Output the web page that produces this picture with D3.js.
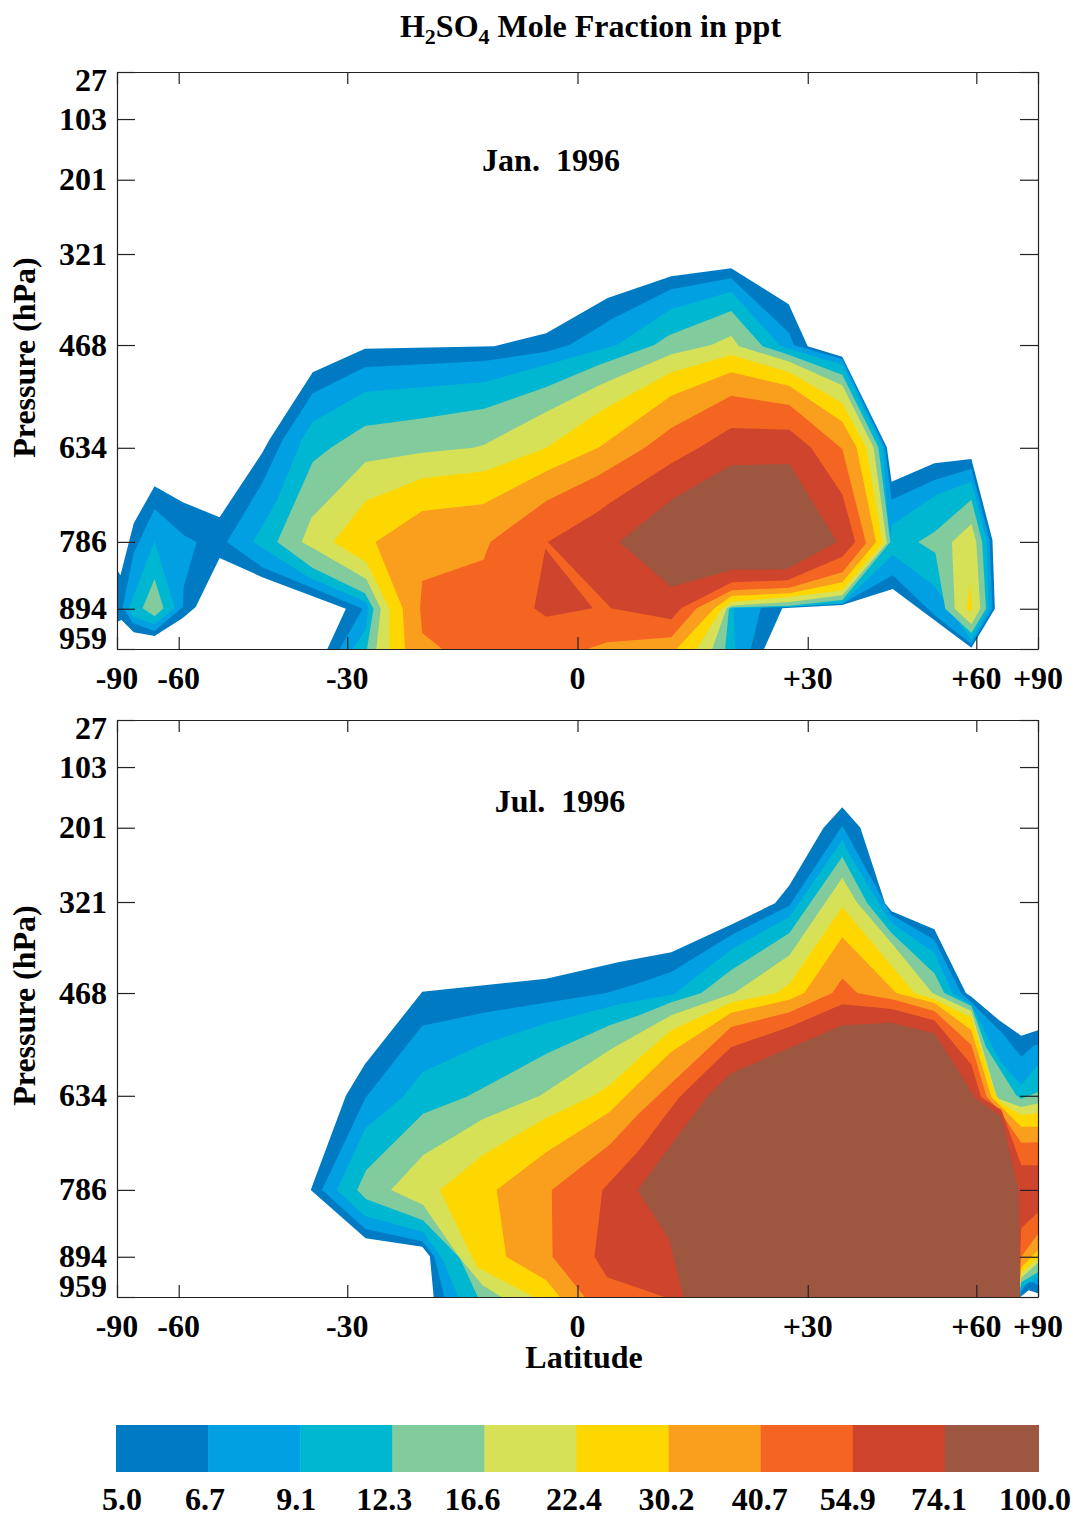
<!DOCTYPE html>
<html lang="en">
<head>
<meta charset="UTF-8">
<title>H2SO4 Mole Fraction</title>
<script src="https://cdn.jsdelivr.net/npm/d3@7"></script>
<style>
    body { margin: 0; background: #fff; }
    svg { display: block; }
    text { font-family: "Liberation Serif", serif; font-weight: bold; fill: #000; white-space: pre; }
    .domain, .tick line { stroke: #222; stroke-width: 1.2; }
</style>
</head>
<body>
<svg id="chart" width="1073" height="1516"></svg>
<script>
// contour levels (ppt) and fill colours
const levels = ['5.0', '6.7', '9.1', '12.3', '16.6', '22.4', '30.2', '40.7', '54.9', '74.1', '100.0'];
const colors = ['#007bc3', '#00a0e2', '#00b7d2', '#82cb9c', '#d6e157', '#ffd700', '#fa9e1e', '#f46522', '#ce442c', '#9d563f'];
const latTicks = [-90, -60, -30, 0, 30, 60, 90];
const pressureTicks = [27, 103, 201, 321, 468, 634, 786, 894, 959];

// every contour is a list of polygons, each point is [latitude, pressure hPa]
const jan5 = [[[-90,831],[-83,840],[-74.5,756],[-66.7,696],[-59,722],[-51,746],[-43.2,642],[-42,621],[-35.1,512],[-27.5,474],[-10.4,470],[-3.9,449],[3.75,392],[11.75,357],[19.5,344],[27.3,402],[30,470],[35.1,487],[42.2,633],[43,689],[50.8,659],[58.8,652],[64.3,783],[65,894],[58.8,957],[43.2,862],[35.1,888],[26.4,893],[23.9,959],[-32.9,959],[-30.2,894],[-43.2,843],[-51,812],[-56,891],[-59,909],[-66.7,938],[-74.5,932],[-82,912],[-90,915]]];
const jan67 = [
    [[-66.7,733],[-58.8,775],[-55.8,786],[-58.8,859],[-59,891],[-66.7,930],[-75,917],[-81,891],[-74.5,804]],
    [[-49.6,786],[-43.2,691],[-39.8,621],[-35.1,546],[-27.5,504],[-11.7,494],[-3.9,479],[-1,468],[2.7,439],[4,428],[11.75,378],[19.5,360],[27.4,449],[28,468],[35.1,491],[41.9,633],[43,718],[50.8,686],[58.8,668],[63.5,783],[64.3,894],[58.8,951],[50.8,904],[43.2,840],[35.1,886],[23.5,891],[22.1,959],[-31.1,959],[-27.8,894],[-43.2,827]]
];
const jan91 = [
    [[-66.7,785],[-61,893],[-66.7,919],[-75,907],[-77,893]],
    [[-44.8,786],[-40.7,718],[-36.8,621],[-35.1,592],[-27.5,544],[-11.7,528],[2.7,476],[4.9,468],[11.75,410],[19.5,382],[26.2,470],[35.1,500],[41.5,633],[42.7,788],[43,759],[51.2,710],[58.8,689],[62.7,783],[63.2,894],[58.8,945],[50.8,857],[43.2,807],[35.1,885],[27.4,891],[19.8,893],[20,959],[-29.2,959],[-27.4,928],[-27,894],[-27.3,883],[-35.6,844]]
];
const jan123 = [
    [[-66.7,846],[-64,893],[-66.7,906],[-70.8,893]],
    [[-40.7,786],[-35.1,657],[-32.4,634],[-27.5,599],[-19.4,586],[-11.7,571],[-3.9,536],[2.7,500],[9.6,468],[11.5,452],[19.5,413],[23.7,470],[27.4,484],[35.1,516],[40.8,633],[42.8,786],[35.1,880],[27.4,889],[19.6,892],[19.2,894],[18.7,959],[-27.2,959],[-26.3,894],[-27.5,869],[-35.1,828]],
    [[47.7,786],[50.8,770],[58.8,718],[61.5,786],[62.5,894],[58.8,933],[53,894],[51,804]]
];
const jan166 = [
    [[-36.8,786],[-35.3,747],[-27.4,657],[-19.7,642],[-13.1,634],[-11.7,629],[-3.9,576],[2.7,533],[11.75,483],[16.9,468],[19.5,453],[20.5,470],[27.4,495],[35.1,533],[40,633],[42.2,788],[35.1,872],[27.4,883],[19.6,889],[18.9,893],[17,959],[-25.9,959],[-25.3,894],[-27.3,846],[-35.1,796]],
    [[54.4,786],[58.8,757],[60,786],[61,894],[58.8,919],[55,894]]
];
const jan224 = [
    [[-32,786],[-27.4,720],[-19.7,683],[-11.7,672],[-3.9,634],[2.7,576],[4.2,565],[11.75,512],[19.5,484],[27.4,512],[35.1,562],[38.8,633],[41.5,788],[35.1,864],[27.4,875],[19.6,883],[18.3,893],[15,959],[-24.1,959],[-24.1,894],[-27.3,819]],
    [[58.5,852],[59,894],[58.3,899],[57.7,894]]
];
const jan302 = [[[-26,786],[-19.7,736],[-11.9,725],[-3.9,672],[2.7,633],[11.75,550],[19.5,512],[27.4,534],[35.1,592],[37.3,633],[40.4,786],[35.1,851],[27.4,869],[19.6,873],[17.3,893],[12.4,959],[-22,959],[-22.3,894]]];
const jan407 = [[[-19.7,849],[-11.8,815],[-10.9,786],[-3.9,720],[2.7,678],[8.4,634],[11.75,602],[19.5,550],[27.4,565],[35.1,636],[38.8,788],[35.1,835],[27.4,860],[19.6,864],[15,893],[11.75,940],[3.7,948],[1.2,959],[-17.1,959],[-19.7,933],[-20,893]]];
const jan549 = [
    [[-3.7,786],[2.7,736],[3.7,726],[11.75,659],[15.3,634],[19.5,602],[27.4,605],[30.5,634],[35.1,709],[37.1,786],[35.1,810],[27.1,848],[19.6,851],[13,893],[11.75,911],[4.2,893]],
    [[-4,797],[1.9,893],[-3.9,907],[-5.4,893]]
];
const jan741 = [[[5.2,786],[11.75,718],[19.5,662],[27.4,660],[34.3,786],[27,830],[19.6,831],[11.75,859]]];

const jul5 = [[[-19.7,466],[-3.9,445],[5.2,418],[11.75,402],[19.6,357],[25.4,323],[27.4,294],[32.3,201],[35.1,168],[37.9,201],[41.9,323],[43,336],[50.8,365],[57.5,468],[58.8,474],[66.3,512],[74.5,537],[90,528],[90,953],[78.5,948],[74,959],[-18.2,959],[-18.7,893],[-19.7,878],[-27.4,864],[-35.4,786],[-30.2,634],[-27.5,583]]];
const jul67 = [[[-33.7,786],[-27.4,637],[-19.7,521],[-11.4,499],[3.6,468],[7.7,452],[11.75,434],[19.6,374],[27.4,327],[35.1,198],[36.6,226],[42.2,329],[43,342],[50.8,382],[56.4,468],[58.8,483],[67.3,533],[74.5,571],[83,552],[90,552],[90,940],[78.5,932],[74.5,951],[74,959],[-16.8,959],[-18.1,894],[-19.7,869],[-27.4,849]]];
const jul91 = [[[-31.5,786],[-27.4,686],[-22.3,636],[-19.7,596],[-11.7,550],[-3.7,516],[5.2,486],[12.1,470],[19.5,398],[27.4,345],[35.1,221],[36.1,242],[41.5,334],[43,355],[50.8,403],[54.5,468],[58.8,487],[66.3,576],[74.5,617],[90,584],[90,928],[74.5,943],[73.4,959],[-15,959],[-17,899],[-19.6,854],[-27.5,828]]];
const jul123 = [[[-28.6,786],[-27.3,754],[-19.6,663],[-14,636],[-3.7,565],[4,520],[7.7,504],[11.75,483],[15.6,468],[19.5,431],[27.4,371],[35.1,248],[39,323],[43,371],[50.8,436],[52.8,468],[58.8,489],[62.5,555],[72.3,633],[74.5,639],[90,628],[90,919],[74.5,935],[73.4,959],[-12.5,959],[-14.8,896],[-19.6,835],[-27.3,801]]];
const jul166 = [[[-23.9,786],[-19.6,730],[-11.9,672],[-4.7,634],[4,560],[7.7,533],[11.75,504],[19.9,468],[27.4,407],[35.1,282],[37.3,321],[43,387],[50.4,468],[58.8,497],[65.7,638],[74.5,652],[90,646],[90,904],[74.5,928],[73.4,959],[-9.5,959],[-11.9,940],[-14.8,896],[-19.6,810]]];
const jul224 = [[[-17.4,786],[-11.9,730],[-4.4,673],[1.9,634],[4,617],[7.7,573],[11.75,528],[19.6,483],[25.6,468],[27.4,453],[35.1,329],[47,468],[50.8,478],[58.8,508],[65,629],[67,646],[74.5,665],[90,662],[90,896],[74.5,920],[73.4,959],[-5.4,959],[-12.6,911]]];
const jul302 = [[[-10.1,786],[-3.9,725],[4,660],[7.7,613],[11.75,563],[19.5,500],[27.4,479],[29.5,468],[35.1,378],[43.8,468],[50.8,484],[58.8,528],[64,636],[74.5,684],[90,684],[90,883],[74.5,911],[73.4,959],[-2.2,959],[-3.9,932],[-8.9,894]]];
const jul407 = [[[-3.2,786],[4,713],[7.7,662],[19.5,523],[27.4,499],[33.6,468],[35.1,444],[37.4,468],[43.4,479],[50.8,497],[58.8,552],[62.7,636],[66.3,657],[74.5,710],[90,709],[90,857],[74.5,894],[73.4,959],[0.9,959],[-3.1,894]]];
const jul549 = [[[3.1,786],[7.7,722],[12.8,636],[19.5,555],[27.4,523],[35.1,486],[43,494],[50.8,512],[58.8,584],[61.2,636],[67,657],[74.5,746],[90,746],[90,822],[74.5,848],[73.4,959],[10.9,959],[3.7,927],[2.1,894]]];
const jul741 = [[[7.5,786],[16.3,636],[19.5,597],[27.4,557],[35.1,520],[43,516],[50.8,533],[57.5,613],[59.5,636],[67,668],[73.4,786],[74,959],[13.3,959],[11.5,867]]];

const janContours = [jan5, jan67, jan91, jan123, jan166, jan224, jan302, jan407, jan549, jan741];
const julContours = [jul5, jul67, jul91, jul123, jul166, jul224, jul302, jul407, jul549, jul741];

const svg = d3.select('#chart');
const left = 117, right = 1038, plotH = 577, fontSize = 32;

// latitude axis is linear in sin(lat)
const sinLat = d => Math.sin(d * Math.PI / 180);
const xSin = d3.scaleLinear().domain([-1, 1]).range([left, right]);
const latFormat = d => {
    const lat = Math.round(Math.asin(d) * 180 / Math.PI);
    return lat > 0 ? '+' + lat : '' + lat;
};
// the first and last pressure labels sit inside the frame, away from their ticks
const presNudge = d => d === 27 ? 8 : d === 959 ? -11 : 0;

function drawPanel(top, contours, label, labelX, labelY) {
    const y = d3.scaleLinear().domain([27, 959]).range([top, top + plotH]);
    const line = d3.line().x(d => xSin(sinLat(d[0]))).y(d => y(d[1])).curve(d3.curveLinearClosed);
    const g = svg.append('g');

    contours.forEach((polys, i) => {
        g.selectAll('path.c' + i).data(polys).join('path')
            .attr('class', 'c' + i)
            .attr('fill', colors[i])
            .attr('d', line);
    });

    const latVals = latTicks.map(sinLat);
    g.append('g').attr('transform', `translate(0,${top})`)
        .call(d3.axisBottom(xSin).tickValues(latVals).tickSizeInner(12).tickSizeOuter(0).tickFormat(''));
    g.append('g').attr('transform', `translate(0,${top + plotH})`)
        .call(d3.axisTop(xSin).tickValues(latVals).tickSizeInner(12).tickSizeOuter(0).tickFormat(''));
    g.append('g').attr('transform', `translate(${left},0)`)
        .call(d3.axisRight(y).tickValues(pressureTicks).tickSizeInner(18).tickSizeOuter(0).tickFormat(''));
    g.append('g').attr('transform', `translate(${right},0)`)
        .call(d3.axisLeft(y).tickValues(pressureTicks).tickSizeInner(18).tickSizeOuter(0).tickFormat(''));

    g.selectAll('text.lat').data(latVals).join('text')
        .attr('class', 'lat')
        .attr('x', d => xSin(d))
        .attr('y', top + plotH + 40)
        .attr('text-anchor', 'middle')
        .attr('font-size', fontSize)
        .text(latFormat);
    g.selectAll('text.pres').data(pressureTicks).join('text')
        .attr('class', 'pres')
        .attr('x', 107)
        .attr('y', d => y(d) + 10.5 + presNudge(d))
        .attr('text-anchor', 'end')
        .attr('font-size', fontSize)
        .text(d => d);

    g.append('text')
        .attr('transform', `translate(35,${top + 285.5}) rotate(-90)`)
        .attr('text-anchor', 'middle')
        .attr('font-size', fontSize)
        .text('Pressure (hPa)');
    g.append('text')
        .attr('x', labelX).attr('y', labelY)
        .attr('text-anchor', 'middle')
        .attr('font-size', fontSize)
        .text(label);
}

drawPanel(72, janContours, 'Jan.  1996', 551, 171);
drawPanel(720, julContours, 'Jul.  1996', 560, 812);

// title with subscripts
const title = svg.append('text').attr('x', 590.5).attr('y', 37).attr('text-anchor', 'middle').attr('font-size', fontSize);
title.append('tspan').text('H');
title.append('tspan').attr('font-size', 22).attr('dy', 7).text('2');
title.append('tspan').attr('dy', -7).text('SO');
title.append('tspan').attr('font-size', 22).attr('dy', 7).text('4');
title.append('tspan').attr('dy', -7).text(' Mole Fraction in ppt');

svg.append('text').attr('x', 584).attr('y', 1368).attr('text-anchor', 'middle').attr('font-size', fontSize).text('Latitude');

// colour bar, the last cell runs a little wider up to the frame edge
const barX = d3.scalePoint().domain(levels).range([116, 1037]);
const barEnd = 1039;
const labelNudge = [6, -3, -4, -8, -12, -2.5, -2, -1, -5, -6, -2];
svg.selectAll('rect.bar').data(colors).join('rect')
    .attr('class', 'bar')
    .attr('x', (d, i) => barX(levels[i]))
    .attr('y', 1425)
    .attr('width', (d, i) => (i < colors.length - 1 ? barX(levels[i + 1]) + 0.5 : barEnd) - barX(levels[i]))
    .attr('height', 47)
    .attr('fill', d => d);
svg.selectAll('text.bar').data(levels).join('text')
    .attr('class', 'bar')
    .attr('x', (d, i) => barX(d) + labelNudge[i])
    .attr('y', 1510)
    .attr('text-anchor', 'middle')
    .attr('font-size', fontSize)
    .text(d => d);
</script>
</body>
</html>
